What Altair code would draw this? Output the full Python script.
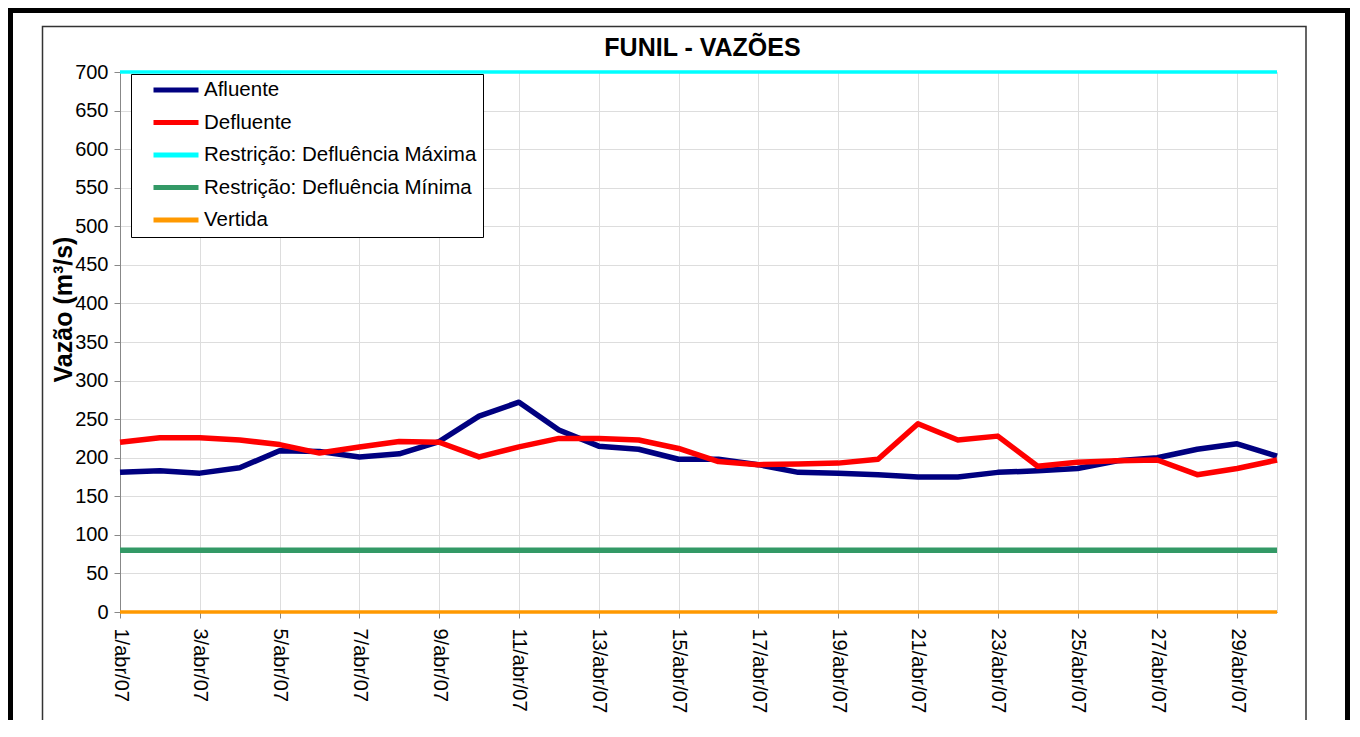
import altair as alt
import pandas as pd

dias = [f"{d}/abr/07" for d in range(1, 31)]
afluente = [181, 183, 180, 187, 209, 208, 201, 205, 221, 254, 272, 236, 215, 211, 198,
            198, 191, 181, 180, 178, 175, 175, 181, 183, 186, 196, 200, 211, 218, 202]
defluente = [220, 226, 226, 223, 217, 206, 214, 221, 220, 201, 214, 225, 225, 223, 212,
             195, 191, 192, 193, 198, 244, 223, 228, 189, 194, 196, 197, 178, 186, 197]
defl_max = [700] * 30
defl_min = [80] * 30
vertida = [0] * 30

series = ["Afluente", "Defluente", "Restrição: Defluência Máxima",
          "Restrição: Defluência Mínima", "Vertida"]
cores = ["#000080", "#FF0000", "#00FFFF", "#339966", "#FF9900"]
larguras = [5.5, 5.5, 3.5, 5.5, 3.5]
valores = [afluente, defluente, defl_max, defl_min, vertida]

rows = []
for s, vals in zip(series, valores):
    for d, v in zip(dias, vals):
        rows.append({"dia": d, "vazao": v, "serie": s})
df = pd.DataFrame(rows)

FONT = "Liberation Sans"

legend = alt.Legend(
    orient="none", legendX=11, legendY=2, title=None,
    fillColor="white", strokeColor="black", padding=6,
    labelFontSize=20.5, labelFont=FONT, labelColor="black", labelOffset=3, labelLimit=500,
    symbolType="stroke", symbolSize=2025, symbolStrokeWidth=5, symbolOffset=14,
    clipHeight=20, rowPadding=11.5,
)

xenc = alt.X("dia:N", sort=dias, title=None,
             scale=alt.Scale(type="point", padding=0),
             axis=alt.Axis(values=dias[::2], labelAngle=90, labelAlign="left",
                           labelBaseline="middle", labelFontSize=20, labelPadding=10,
                           tickSize=6, grid=True))
yenc = alt.Y("vazao:Q", title="Vazão (m³/s)",
             scale=alt.Scale(domain=[0, 700], nice=False),
             axis=alt.Axis(values=list(range(0, 701, 50)), labelFontSize=20, tickSize=6,
                           labelPadding=6, grid=True, titleFontSize=25, titleFontWeight="bold",
                           titleAngle=270, titleX=-57, titleY=237, titleAlign="center",
                           titleBaseline="middle"))
cenc = alt.Color("serie:N", scale=alt.Scale(domain=series, range=cores), legend=legend)

frame_df = pd.DataFrame({"k": [0]})
outer = alt.Chart(frame_df).mark_rect(fill="transparent", stroke="black", strokeWidth=5).encode(
    x=alt.value(-109.5), x2=alt.value(1227.5), y=alt.value(-61.5), y2=alt.value(900))
inner = alt.Chart(frame_df).mark_rect(fill="transparent", stroke="#333333", strokeWidth=1.5).encode(
    x=alt.value(-77.5), x2=alt.value(1186), y=alt.value(-45.5), y2=alt.value(900))

layers = [outer, inner]
for s, w in zip(series, larguras):
    layers.append(
        alt.Chart(df).transform_filter(alt.datum.serie == s)
        .mark_line(strokeWidth=w, strokeJoin="round")
        .encode(x=xenc, y=yenc, color=cenc)
    )

chart = alt.layer(*layers).properties(
    width=1157, height=540,
    padding={"left": 112, "top": 64, "right": 73, "bottom": 108},
    autosize=alt.AutoSizeParams(type="none"),
    title=alt.TitleParams("FUNIL - VAZÕES", fontSize=25, fontWeight="bold", font=FONT,
                          anchor="middle", dx=4, offset=0, dy=73, baseline="alphabetic",
                          color="black"),
).configure_view(stroke="#999999", strokeWidth=1).configure_axis(
    labelFont=FONT, titleFont=FONT, labelColor="black", titleColor="black",
    domainColor="black", tickColor="black", gridColor="#c4c4c4", gridWidth=1,
).configure(background="white")

chart.save("out.html", embed_options={"renderer": "svg", "actions": False})
